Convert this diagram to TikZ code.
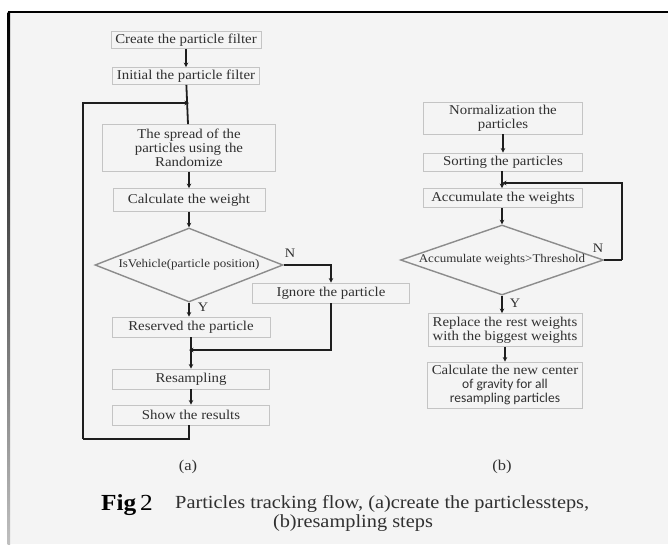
\documentclass[tikz,border=0pt]{standalone}
\usepackage{fontspec}
\setmainfont{Liberation Serif}[FakeStretch=1.1]
\newfontfamily\calibrifont{Carlito}
\usetikzlibrary{shapes.geometric,arrows.meta}

\definecolor{bg}{HTML}{F4F4F4}
\definecolor{boxgray}{HTML}{C4C4C4}
\definecolor{decgray}{HTML}{8C8C8C}
\definecolor{ink}{HTML}{1E1E1E}
\definecolor{txt}{HTML}{303030}

\begin{document}
\begin{tikzpicture}[x=1pt,y=-1pt,
  box/.style={shape=rectangle,draw=boxgray,fill=bg,align=center,line width=0.9pt,inner sep=1pt,text=txt,font=\fontsize{13.5}{14}\selectfont},
  dec/.style={shape=diamond,draw=decgray,fill=bg,line width=1.4pt,inner sep=0pt},
  tag/.style={text=txt,font=\fontsize{13}{14}\selectfont,inner sep=0pt},
  dectext/.style={text=txt,font=\fontsize{11.8}{13}\selectfont,inner sep=0pt},
  arr/.style={-{Stealth[length=4.5pt,width=4.5pt]},draw=ink,line width=1.8pt},
  line/.style={-,draw=ink,line width=1.8pt}]
\useasboundingbox (0,0) rectangle (668,544);
\fill[white] (0,0) rectangle (668,544);
\fill[bg] (9,12) rectangle (668,544);
\draw[black,line width=2pt] (8,12) -- (668,12);
\shade[top color=black,bottom color=black!25] (7.5,12) rectangle (10,544);

% (a)
\node[box,minimum width=150pt,minimum height=17pt] (create) at (186,40) {Create the particle filter};
\node[box,minimum width=147pt,minimum height=17pt] (init) at (186,76) {Initial the particle filter};
\node[box,minimum width=173pt,minimum height=47pt] (spread) at (189,148) {The spread of the\\particles using the\\Randomize};
\node[box,minimum width=152pt,minimum height=23pt] (calc) at (189,200) {Calculate the weight};
\node[dec,minimum width=188pt,minimum height=74pt,label={[dectext]center:IsVehicle(particle position)}] (vehicle) at (189,265) {};
\node[box,minimum width=157pt,minimum height=20pt] (ignore) at (331,293) {Ignore the particle};
\node[box,minimum width=158pt,minimum height=20pt] (reserved) at (191,327) {Reserved the particle};
\node[box,minimum width=157pt,minimum height=20pt] (resampling) at (191,379) {Resampling};
\node[box,minimum width=157pt,minimum height=20pt] (show) at (191,415) {Show the results};
\node[tag] (nA) at (290,253) {N};
\node[tag] (yA) at (203,307) {Y};
\coordinate (loopA) at (189,103);
\coordinate (cornerA) at (83,439);
\coordinate (mergeA) at (189,350);

\draw[arr] (create) -- (init);
\draw[line] (init) -- (spread);
\draw[arr] (spread) -- (calc);
\draw[arr] (calc) -- (vehicle);
\draw[arr] (vehicle.east) -| (ignore.north);
\draw[arr] (vehicle.south) -- (reserved.north -| vehicle.south);
\draw[arr] (reserved.south -| resampling.north) -- (resampling.north);
\draw[arr] (ignore.south) |- (mergeA);
\draw[arr] (resampling) -- (show);
\draw[line] (show.south -| loopA) |- (cornerA);
\draw[arr] (cornerA) |- (loopA);

% (b)
\node[box,minimum width=159pt,minimum height=32pt] (norm) at (503,118) {Normalization the\\particles};
\node[box,minimum width=159pt,minimum height=18pt] (sort) at (503,162) {Sorting the particles};
\node[box,minimum width=159pt,minimum height=19pt] (accum) at (503,198) {Accumulate the weights};
\node[dec,minimum width=203pt,minimum height=70pt,label={[dectext]center:Accumulate weights>Threshold}] (thresh) at (502,260) {};
\node[box,minimum width=154pt,minimum height=33pt] (replace) at (505,330) {Replace the rest weights\\with the biggest weights};
\node[box,minimum width=155pt,minimum height=46pt] (gravity) at (505,385) {Calculate the new center\\{\calibrifont of gravity for all}\\{\calibrifont resampling particles}};
\node[tag] (nB) at (598,248) {N};
\node[tag] (yB) at (515,303) {Y};
\coordinate (loopB) at (502,183);
\coordinate (cornerB) at (622,260);

\draw[arr] (norm) -- (sort);
\draw[arr] (sort.south -| loopB) -- (accum.north -| loopB);
\draw[arr] (accum.south -| thresh.north) -- (thresh.north);
\draw[arr] (thresh.south) -- (replace.north -| thresh.south);
\draw[arr] (replace) -- (gravity);
\draw[line] (thresh.east) -- (cornerB);
\draw[arr] (cornerB) |- (loopB);

% labels and caption
\node[text=txt,font=\fontsize{15}{17}\selectfont] (capA) at (188,467) {(a)};
\node[text=txt,font=\fontsize{15}{17}\selectfont] (capB) at (502,467) {(b)};
\node[text=black,font=\fontsize{23}{25}\selectfont,anchor=west,inner sep=0pt] (fig) at (101,505) {\textbf{Fig}\,2};
\node[text=txt,font=\fontsize{18.5}{20}\selectfont,anchor=west,inner sep=0pt] (capline) at (175,504) {Particles tracking flow, (a)create the particlessteps,};
\node[text=txt,font=\fontsize{18.5}{20}\selectfont,inner sep=0pt] (capline2) at (353,523) {(b)resampling steps};
\end{tikzpicture}
\end{document}
